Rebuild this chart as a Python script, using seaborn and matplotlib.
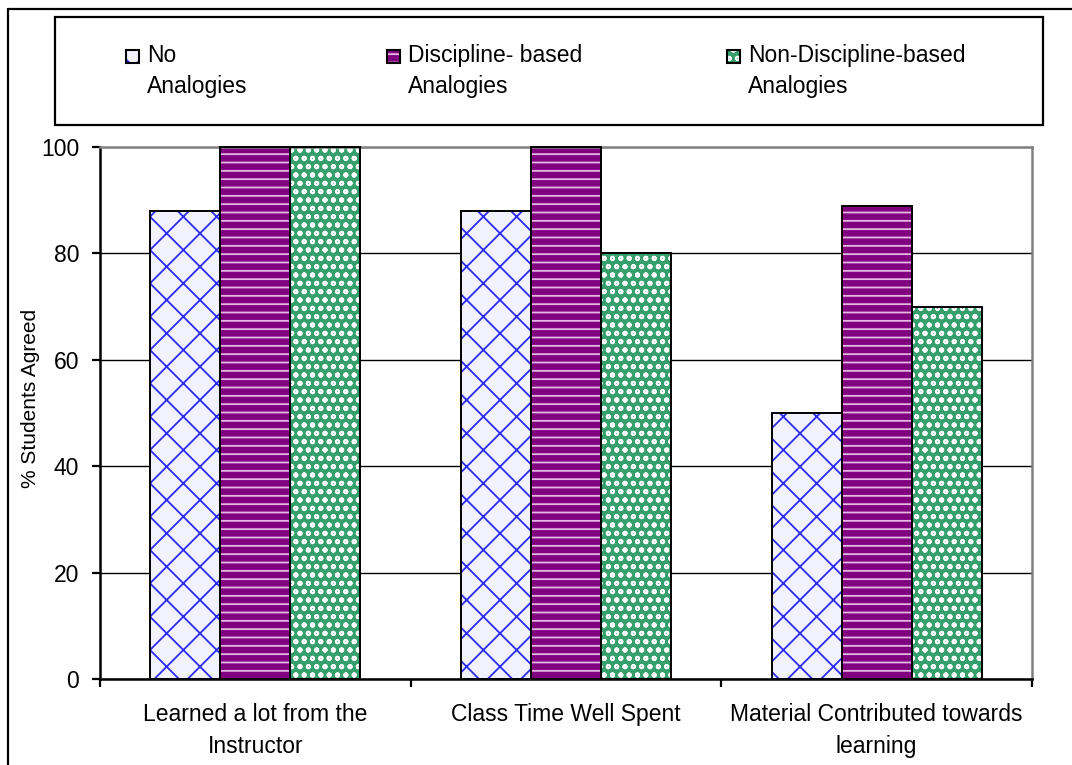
import matplotlib
matplotlib.use("Agg")
import matplotlib.pyplot as plt
import seaborn as sns
import pandas as pd
from matplotlib.patches import Rectangle
from matplotlib.lines import Line2D

# Survey items (x categories) and the three teaching conditions
items = ["Learned a lot from the\nInstructor",
         "Class Time Well Spent",
         "Material Contributed towards\nlearning"]
groups = ["No Analogies", "Discipline- based Analogies", "Non-Discipline-based Analogies"]
legend_labels = ["No\nAnalogies", "Discipline- based\nAnalogies", "Non-Discipline-based\nAnalogies"]

# % of students who agreed, per condition
no_analogies = [88, 88, 50]
discipline_based = [100, 100, 89]
non_discipline_based = [100, 80, 70]

y_ticks = [0, 20, 40, 60, 80, 100]

rows = []
for g, vals in zip(groups, [no_analogies, discipline_based, non_discipline_based]):
    for it, v in zip(items, vals):
        rows.append({"item": it, "group": g, "pct": v})
df = pd.DataFrame(rows)

# Fill styles: face colour, hatch colour, hatch pattern
face_colors = ["#F2F2FF", "#800080", "#35A06C"]
hatch_colors = ["#2B2BF5", "#E8B8E4", "#FFFFFF"]
hatches = ["x", "--", "oo"]

sns.set_style("white")
plt.rcParams["font.family"] = ["Liberation Sans", "DejaVu Sans"]
plt.rcParams["hatch.linewidth"] = 1.3
plt.rcParams["text.color"] = "black"
plt.rcParams["axes.labelcolor"] = "black"
plt.rcParams["xtick.color"] = "black"
plt.rcParams["ytick.color"] = "black"

FS = 16.5
W, H = 1072, 765
fig = plt.figure(figsize=(W / 100, H / 100), dpi=100)
ax = fig.add_axes([100 / W, 1 - 679 / H, 932 / W, 532 / H])

sns.barplot(data=df, x="item", y="pct", hue="group", order=items, hue_order=groups,
            palette=face_colors, saturation=1, width=0.675, linewidth=0,
            legend=False, ax=ax, zorder=2)

for container, hc, hp in zip(ax.containers, hatch_colors, hatches):
    for bar in container:
        bar.set_hatch(hp)
        bar.set_edgecolor(hc)
        bar.set_linewidth(0)
        ax.add_patch(Rectangle(bar.get_xy(), bar.get_width(), bar.get_height(),
                               fill=False, edgecolor="black", linewidth=1.4,
                               zorder=3, clip_on=False))

ax.set_xlim(-0.5, 2.5)
ax.set_ylim(0, 100)
ax.set_yticks(y_ticks)
ax.yaxis.grid(True, color="black", linewidth=1.0, zorder=0)
ax.set_axisbelow(True)
ax.get_ygridlines()[-1].set_color("#808080")

ax.set_xlabel("")
ax.set_ylabel("% Students Agreed", fontsize=15)
ax.yaxis.set_label_coords(-0.064, 0.528)

ax.tick_params(axis="y", direction="out", length=6, width=1.6, pad=9,
               labelsize=FS, left=True)
ax.tick_params(axis="x", which="major", length=0, pad=17, labelsize=FS)
for lab in ax.get_xticklabels():
    lab.set_linespacing(1.5)
ax.set_xticks([-0.5, 0.5, 1.5, 2.5], minor=True)
ax.tick_params(axis="x", which="minor", direction="out", length=6, width=1.6,
               bottom=True)

for side in ["left", "bottom"]:
    ax.spines[side].set_color("black")
    ax.spines[side].set_linewidth(1.8)
for side in ["top", "right"]:
    ax.spines[side].set_visible(True)
    ax.spines[side].set_color("#808080")
    ax.spines[side].set_linewidth(1.8)

# Legend box with three entries
fig.patches.append(Rectangle((55 / W, 1 - 125 / H), 988 / W, 108 / H,
                             transform=fig.transFigure, fill=False,
                             edgecolor="black", linewidth=1.6))
handle_x = [126, 387, 727]
for hx, lab, fc, hc, hp in zip(handle_x, legend_labels, face_colors, hatch_colors, hatches):
    fig.patches.append(Rectangle((hx / W, 1 - 63 / H), 13 / W, 13 / H,
                                 transform=fig.transFigure, facecolor=fc,
                                 edgecolor=hc, hatch=hp, linewidth=0))
    fig.patches.append(Rectangle((hx / W, 1 - 63 / H), 13 / W, 13 / H,
                                 transform=fig.transFigure, fill=False,
                                 edgecolor="black", linewidth=1.5))
    fig.text((hx + 21) / W, 1 - 44 / H, lab, fontsize=FS, ha="left", va="top",
             linespacing=1.42)

# Outer frame (left and top edges)
fig.lines.append(Line2D([8 / W, 8 / W], [0, 1 - 9 / H], transform=fig.transFigure,
                        color="black", linewidth=1.6))
fig.lines.append(Line2D([8 / W, 1], [1 - 9 / H, 1 - 9 / H], transform=fig.transFigure,
                        color="black", linewidth=1.6))

fig.savefig("out.png", dpi=100)
